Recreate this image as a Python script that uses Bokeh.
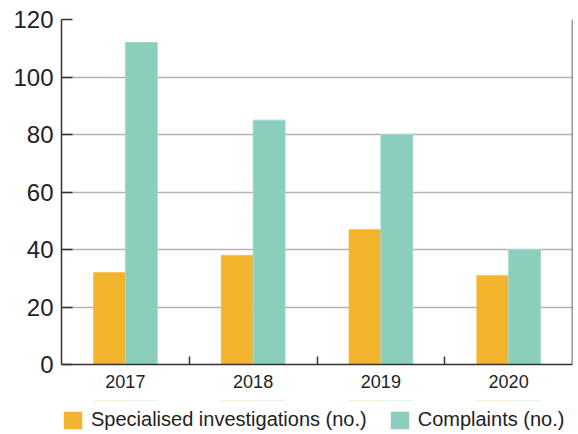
from bokeh.plotting import figure
from bokeh.models import (FixedTicker, Legend, LegendItem, Span)
from bokeh.layouts import column
from bokeh.embed import file_html
from bokeh.resources import INLINE
import numpy as np

years = ["2017", "2018", "2019", "2020"]
investigations = [32, 38, 47, 31]
complaints = [112, 85, 80, 40]
series_names = ["Specialised investigations (no.)", "Complaints (no.)"]
y_ticks = [0, 20, 40, 60, 80, 100, 120]

ORANGE = "#F3B52D"
TEAL = "#8BCEBD"
FONT = "Liberation Sans"

xc = np.arange(len(years)) + 0.5

p = figure(frame_width=511, frame_height=345, output_backend="svg", toolbar_location=None,
           x_range=(0, len(years)), y_range=(0, 120))
p.min_border_left = 61
p.min_border_right = 6
p.min_border_top = 19
p.min_border_bottom = 36
p.outline_line_color = None
p.background_fill_color = "white"
p.border_fill_color = "white"

p.vbar(x=xc - 0.125, top=investigations, width=0.25, fill_color=ORANGE,
       line_color=ORANGE, line_width=0.5)
p.vbar(x=xc + 0.125, top=complaints, width=0.25, fill_color=TEAL,
       line_color="#A6D9CC", line_width=1)

# x axis
p.xaxis.ticker = FixedTicker(ticks=list(xc), minor_ticks=list(np.arange(1, len(years))))
p.xaxis.major_label_overrides = {float(x): y for x, y in zip(xc, years)}
p.xaxis.major_tick_in = 0
p.xaxis.major_tick_out = 0
p.xaxis.minor_tick_in = 8
p.xaxis.minor_tick_out = 0
p.xaxis.minor_tick_line_color = "#333333"
p.xaxis.minor_tick_line_width = 1.5
p.xaxis.axis_line_color = "#333333"
p.xaxis.axis_line_width = 1.5
p.xaxis.major_label_text_font = FONT
p.xaxis.major_label_text_font_size = "18px"
p.xaxis.major_label_text_color = "#222222"
p.xaxis.major_label_standoff = 10

# y axis
p.yaxis.ticker = FixedTicker(ticks=y_ticks)
p.yaxis.major_tick_in = 11
p.yaxis.major_tick_out = 0
p.yaxis.minor_tick_line_color = None
p.yaxis.major_tick_line_color = "#333333"
p.yaxis.major_tick_line_width = 1.5
p.yaxis.axis_line_color = "#333333"
p.yaxis.axis_line_width = 1.5
p.yaxis.major_label_text_font = FONT
p.yaxis.major_label_text_font_size = "24px"
p.yaxis.major_label_text_color = "#222222"
p.yaxis.major_label_standoff = 8

p.xgrid.grid_line_color = None
p.ygrid.ticker = FixedTicker(ticks=y_ticks)
p.ygrid.grid_line_color = "#B4B4B4"
p.ygrid.grid_line_width = 1.5

p.add_layout(Span(location=len(years), dimension="height", line_color="#333333", line_width=1.5))

# legend strip (bars kept far outside its visible range; only the legend shows)
lg = figure(width=578, height=34, output_backend="svg", toolbar_location=None,
            x_range=(0, len(years)), y_range=(-1000, -999), min_border=0)
lg.axis.visible = False
lg.grid.visible = False
lg.outline_line_color = None
lg.border_fill_color = "white"
lg.background_fill_color = "white"
l1 = lg.vbar(x=xc - 0.125, top=investigations, width=0.25, fill_color=ORANGE, line_color=None)
l2 = lg.vbar(x=xc + 0.125, top=complaints, width=0.25, fill_color=TEAL, line_color=None)

legend = Legend(items=[LegendItem(label=series_names[0], renderers=[l1]),
                       LegendItem(label=series_names[1], renderers=[l2])],
                orientation="horizontal", location=(0, 3),
                glyph_width=23, glyph_height=22, label_standoff=7, spacing=21,
                label_text_font=FONT, label_text_font_size="20px",
                label_text_color="#222222", border_line_color=None,
                background_fill_alpha=0, padding=0, margin=0)
lg.add_layout(legend, "center")

layout = column(p, lg, spacing=0)
open("out.html", "w").write(file_html(layout, INLINE))
